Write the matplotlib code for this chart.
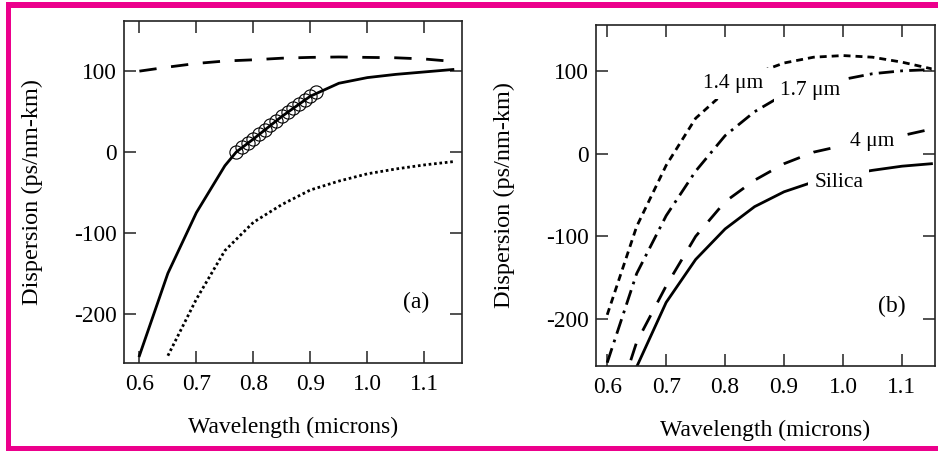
import matplotlib
matplotlib.use("Agg")
import matplotlib.pyplot as plt
from matplotlib.patches import Rectangle

plt.rcParams["font.family"] = ["Liberation Serif", "DejaVu Serif"]
plt.rcParams["axes.unicode_minus"] = False
plt.rcParams["lines.scale_dashes"] = False

# ---- panel (a) ----
wl_a_fit = [0.60, 0.65, 0.70, 0.75, 0.77, 0.80, 0.85, 0.90, 0.95, 1.00, 1.05, 1.10, 1.15]
disp_a_fit = [-252, -150, -75, -17, 0, 16, 44, 69, 85, 92, 96, 99, 102]

wl_a_meas = [0.77, 0.78, 0.79, 0.80, 0.81, 0.82, 0.83, 0.84, 0.85, 0.86, 0.87, 0.88, 0.89, 0.90, 0.91]
disp_a_meas = [0, 6, 11, 16, 22, 27, 33, 38, 44, 49, 54, 59, 64, 69, 74]

wl_a_upper = [0.60, 0.65, 0.70, 0.75, 0.80, 0.85, 0.90, 0.95, 1.00, 1.05, 1.10, 1.15]
disp_a_upper = [100, 105, 109.5, 112.5, 114, 116, 117, 117.5, 117, 116.5, 115, 112]

wl_a_silica = [0.65, 0.70, 0.75, 0.80, 0.85, 0.90, 0.95, 1.00, 1.05, 1.10, 1.15]
disp_a_silica = [-252, -182, -122, -87, -65, -47, -36, -27, -21, -16, -12]

# ---- panel (b) ----
wl_b = [0.60, 0.65, 0.70, 0.75, 0.80, 0.85, 0.90, 0.95, 1.00, 1.05, 1.10, 1.15]
disp_b_14 = [-195, -88, -14, 43, 75, 97, 110, 117, 119, 117, 111, 103]
disp_b_17 = [-253, -145, -75, -21, 22, 51, 72, 83, 90, 97, 100.5, 102]

wl_b_4 = [0.64, 0.65, 0.70, 0.75, 0.80, 0.85, 0.90, 0.95, 1.00, 1.05, 1.10, 1.15]
disp_b_4 = [-250, -228, -160, -100, -58, -32, -12, 2, 10, 16, 22, 30]

wl_b_silica = [0.65, 0.70, 0.75, 0.80, 0.85, 0.90, 0.95, 1.00, 1.05, 1.10, 1.15]
disp_b_silica = [-258, -180, -128, -91, -64, -46, -34, -26, -20, -15, -12]

curve_labels = ["1.4 μm", "1.7 μm", "4 μm", "Silica"]
curve_label_pos = [(0.814, 85), (0.945, 77), (1.049, 14.5), (0.993, -35)]

xticks = [0.6, 0.7, 0.8, 0.9, 1.0, 1.1]
xtick_labels = ["0.6", "0.7", "0.8", "0.9", "1.0", "1.1"]
yticks = [-200, -100, 0, 100]
ytick_labels = ["-200", "-100", "0", "100"]

W, H = 938, 451
fig = plt.figure(figsize=(W / 100, H / 100), dpi=100)

def frac_axes(left, top, right, bottom):
    return fig.add_axes([left / W, (H - bottom) / H, (right - left) / W, (bottom - top) / H])

ax_a = frac_axes(124, 21, 462, 363)
ax_b = frac_axes(596, 25, 935, 366)

LW = 2.0
DASH = (0, (12.5, 10.5))
DOT = (0, (1.9, 2.0))
SHORT = (0, (5.0, 3.6))
DASHDOT = (0, (11.0, 4.5, 2.0, 4.5))

# panel (a)
ax_a.plot(wl_a_fit, disp_a_fit, color="black", lw=LW, solid_joinstyle="miter")
ax_a.plot(wl_a_upper, disp_a_upper, color="black", lw=LW, linestyle=DASH, dash_capstyle="butt")
ax_a.plot(wl_a_silica, disp_a_silica, color="black", lw=LW, linestyle=DOT, dash_capstyle="butt")
ax_a.plot(wl_a_meas, disp_a_meas, linestyle="none", marker="o", markersize=9.5,
          markerfacecolor="none", markeredgecolor="black", markeredgewidth=0.8)
ax_a.set_xlim(0.573, 1.166)
ax_a.set_ylim(-261, 162)
ax_a.text(1.086, -186, "(a)", fontsize=17, ha="center", va="center")

# panel (b)
ax_b.plot(wl_b_silica, disp_b_silica, color="black", lw=LW)
ax_b.plot(wl_b_4, disp_b_4, color="black", lw=LW, linestyle=DASH, dash_capstyle="butt")
ax_b.plot(wl_b, disp_b_17, color="black", lw=LW, linestyle=DASHDOT, dash_capstyle="butt")
ax_b.plot(wl_b, disp_b_14, color="black", lw=LW, linestyle=SHORT, dash_capstyle="butt")
ax_b.set_xlim(0.581, 1.156)
ax_b.set_ylim(-257, 156)
for lab, (x, y) in zip(curve_labels, curve_label_pos):
    ax_b.text(x, y, lab, fontsize=15.5, ha="center", va="center", zorder=5,
              bbox=dict(boxstyle="square,pad=0.28", fc="white", ec="none"))
ax_b.text(1.082, -185, "(b)", fontsize=17, ha="center", va="center")

for ax in (ax_a, ax_b):
    ax.set_xticks(xticks)
    ax.set_xticklabels(xtick_labels)
    ax.set_yticks(yticks)
    ax.set_yticklabels(ytick_labels)
    ax.tick_params(direction="in", top=True, right=True, length=8.5, width=1.1,
                   labelsize=16.8, pad=5, color="#222222")
    ax.tick_params(axis="x", pad=8)
    for sp in ax.spines.values():
        sp.set_linewidth(1.2)
        sp.set_color("#222222")
    ax.set_xlabel("Wavelength (microns)", fontsize=17, va="center")
    ax.set_ylabel("Dispersion (ps/nm-km)", fontsize=17.5, va="center")
    h_px = ax.get_position().height * H
    w_px = ax.get_position().width * W
    ax.xaxis.set_label_coords(0.5, -64 / h_px)
    ax.yaxis.set_label_coords(-92 / w_px, 0.5)

# magenta frame
pink = "#EC008C"
for (x0, y0, x1, y1) in [(6, 2, W, 8), (6, 2, 11, 451), (6, 446, W, 451)]:
    fig.patches.append(Rectangle((x0 / W, (H - y1) / H), (x1 - x0) / W, (y1 - y0) / H,
                                 transform=fig.transFigure, facecolor=pink,
                                 edgecolor="none", zorder=10))

fig.savefig("out.png", dpi=100)
